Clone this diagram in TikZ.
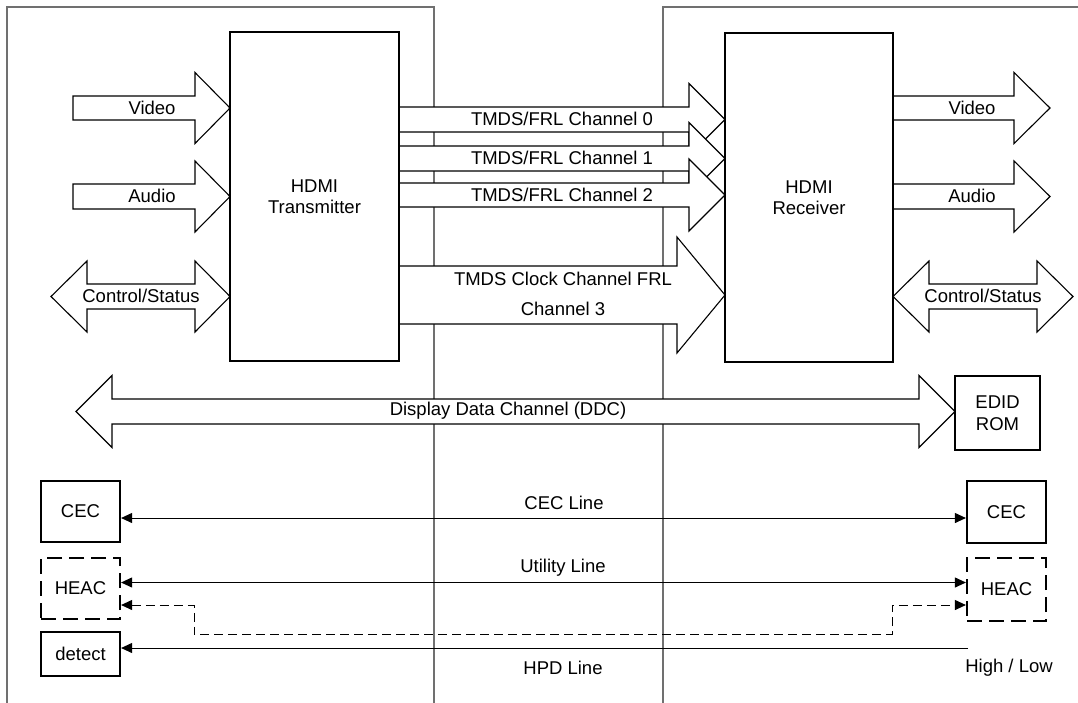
\documentclass[tikz,border=0pt]{standalone}
\usepackage{fontspec}
\setmainfont{Liberation Sans}
\usetikzlibrary{arrows.meta}
\definecolor{framegray}{RGB}{112,112,112}
% right-pointing fat arrow: tail x, head base x, tip x, centre y, half shaft, half head
\newcommand{\fatRight}[6]{%
  \draw[fat] (#1,#4-#5) -- (#2,#4-#5) -- (#2,#4-#6) -- (#3,#4) -- (#2,#4+#6) -- (#2,#4+#5) -- (#1,#4+#5) -- cycle;}
% double fat arrow: left tip, left base, right base, right tip, centre y, half shaft, half head
\newcommand{\fatBoth}[7]{%
  \draw[fat] (#1,#5) -- (#2,#5-#7) -- (#2,#5-#6) -- (#3,#5-#6) -- (#3,#5-#7) -- (#4,#5) -- (#3,#5+#7) -- (#3,#5+#6) -- (#2,#5+#6) -- (#2,#5+#7) -- cycle;}
\begin{document}
\begin{tikzpicture}[x=1pt,y=-1pt,
  frame/.style={draw=framegray,line width=2pt},
  fat/.style={draw=black,fill=white,line width=1.1pt,line join=miter},
  blk/.style={draw=black,fill=white,line width=2.2pt,inner sep=0pt,font=\fontsize{18.5}{21.5}\selectfont,align=center},
  dblk/.style={blk,dash pattern=on 15pt off 7pt},
  lbl/.style={inner sep=0pt,font=\fontsize{18.5}{21.5}\selectfont,align=center},
  thin/.style={draw=black,line width=1pt},
  htip/.tip={Triangle[length=11pt,width=10pt]}
]
\useasboundingbox (0,0) rectangle (1078,702);
% panel frames
\draw[frame] (7,706) -- (7,6.5) -- (434,6.5) -- (434,706);
\draw[frame] (663,706) -- (663,6.5) -- (1084,6.5);

% left side fat arrows
\fatRight{73}{195}{230}{108}{12}{35.5}
\fatRight{73}{195}{230}{196.5}{12.5}{35.5}
\fatBoth{51}{87}{195}{230}{296.5}{12.5}{35.5}
% right side fat arrows
\fatRight{893}{1014}{1050}{108}{12}{35.5}
\fatRight{893}{1014}{1050}{196.5}{12.5}{35.5}
\fatBoth{893}{929}{1037}{1073}{296.5}{12.5}{35.5}
% channels
\fatRight{399}{689}{725}{119.5}{12.5}{36}
\fatRight{399}{689}{725}{158.5}{12.5}{36}
\fatRight{399}{689}{725}{195}{12}{36}
\fatRight{399}{677}{725}{295}{29}{58}
% DDC
\fatBoth{76}{112}{919}{955}{411.5}{12.5}{36}

% blocks
\node[blk,minimum width=169pt,minimum height=329pt] (tx) at (314.5,196.5) {HDMI\\Transmitter};
\node[blk,minimum width=168pt,minimum height=329pt] (rx) at (809,197.5) {HDMI\\Receiver};
\node[blk,minimum width=85pt,minimum height=74pt] (edid) at (997.5,413) {EDID\\ROM};
\node[blk,minimum width=79pt,minimum height=61pt] (cecL) at (80.5,511.5) {CEC};
\node[dblk,minimum width=79pt,minimum height=61pt] (heacL) at (80.5,588.5) {HEAC};
\node[blk,minimum width=79pt,minimum height=44pt] (detL) at (80.5,654) {detect};
\node[blk,minimum width=79pt,minimum height=62pt] (cecR) at (1006.5,512) {CEC};
\node[dblk,minimum width=79pt,minimum height=63pt] (heacR) at (1006.5,589.5) {HEAC};

% fat arrow labels
\node[lbl] (vidL) at (152,108) {Video};
\node[lbl] (audL) at (152,196) {Audio};
\node[lbl] (ctlL) at (141,296) {Control/Status};
\node[lbl] (vidR) at (972,108) {Video};
\node[lbl] (audR) at (972,196) {Audio};
\node[lbl] (ctlR) at (983,296) {Control/Status};
\node[lbl] (ch0) at (562,119) {TMDS/FRL Channel 0};
\node[lbl] (ch1) at (562,158) {TMDS/FRL Channel 1};
\node[lbl] (ch2) at (562,195) {TMDS/FRL Channel 2};
\node[lbl] (ch3a) at (563,279) {TMDS Clock Channel FRL};
\node[lbl] (ch3b) at (563,309) {Channel 3};
\node[lbl] (ddc) at (508,411) {Display Data Channel (DDC)};

% thin connectors
\coordinate (cecy) at (0,518);
\coordinate (uty) at (0,582.5);
\coordinate (dy) at (0,605);
\coordinate (hpdy) at (0,648);
\coordinate (dl) at (194,605);
\coordinate (dr) at (892,605);
\coordinate (hpdR) at (968,648);
\draw[thin,htip-htip] (cecL.east |- cecy) -- (cecR.west |- cecy);
\draw[thin,htip-htip] (heacL.east |- uty) -- (heacR.west |- uty);
\draw[thin,dash pattern=on 9pt off 5pt,htip-htip] (heacL.east |- dy) -- (dl) -- ++(0,29.5) -| (dr) -- (heacR.west |- dy);
\draw[thin,-htip] (hpdR) -- (detL.east |- hpdy);

\node[lbl] (cecl) at (564,503) {CEC Line};
\node[lbl] (utl) at (563,568) {Utility Line};
\node[lbl] (hpdl) at (563,668) {HPD Line};
\node[lbl] (hl) at (1009,668) {High / Low};
\end{tikzpicture}
\end{document}
